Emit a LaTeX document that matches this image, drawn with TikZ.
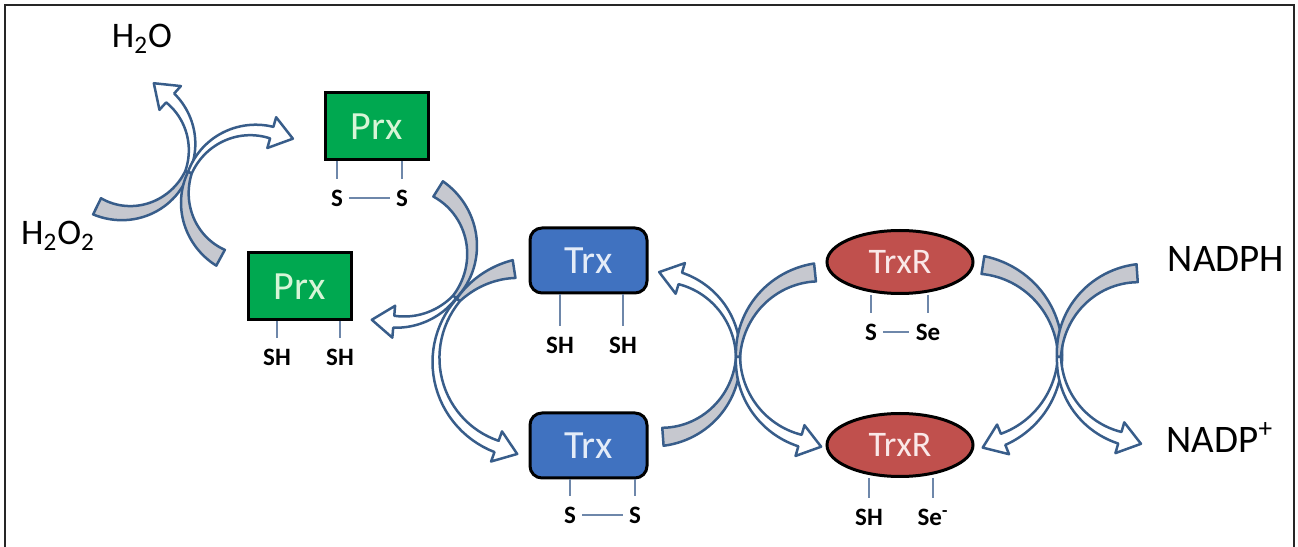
\documentclass[tikz,border=0pt]{standalone}
\usepackage{fontspec}
\setmainfont{Carlito}
\usetikzlibrary{positioning,shapes.geometric}
\definecolor{prxgreen}{RGB}{0,168,80}
\definecolor{prxtext}{RGB}{215,245,215}
\definecolor{trxblue}{RGB}{64,114,192}
\definecolor{trxtext}{RGB}{228,236,248}
\definecolor{trxrred}{RGB}{192,80,77}
\definecolor{trxrtext}{RGB}{250,232,232}
\definecolor{arrowblue}{RGB}{56,93,138}
\definecolor{tailgray}{RGB}{198,200,207}
\definecolor{bondblue}{RGB}{110,135,170}
% widths of the bent arrows (in picture units)
\newcommand{\tailw}{18}
\newcommand{\waistw}{4}
\newcommand{\headw}{12}
\newcommand{\headhw}{16}
\newcommand{\headl}{22}
\tikzset{
prx/.style={
draw=black,
line width=1.5pt,
minimum width=51.5pt,
minimum height=33.5pt,
fill=prxgreen,
text=prxtext,
font=\fontsize{20}{20}\selectfont
},
trx/.style={
prx,
rounded corners=6pt,
minimum width=58.5pt,
minimum height=32.5pt,
fill=trxblue,
text=trxtext
},
trxr/.style={
ellipse,
draw=black,
line width=1.5pt,
inner sep=0pt,
minimum width=73pt,
minimum height=31.5pt,
fill=trxrred,
text=trxrtext,
font=\fontsize{18}{18}\selectfont
},
site/.style={
inner sep=1pt,
font=\bfseries\fontsize{12.5}{12.5}\selectfont
},
bond/.style={
draw=bondblue,
line width=0.8pt
},
species/.style={
anchor=base,
font=\fontsize{18}{18}\selectfont
},
bent/.style={
draw=arrowblue,
line width=1.25pt,
line join=round
},
frame/.style={
draw=black!85,
line width=1.2pt
}
}
% centre x, centre y, radius, tail angle, waist angle, head angle
\newcommand{\bentarrow}[6]{%
\pgfmathsetmacro\tipdir{#6+90*sign(#6-(#4))}%
\pgfmathsetmacro\tipx{(#3)*cos(#6)+\headl*cos(\tipdir)}%
\pgfmathsetmacro\tipy{(#3)*sin(#6)+\headl*sin(\tipdir)}%
\begin{scope}[shift={(#1,#2)}]
\filldraw[bent,fill=tailgray]
plot[domain=#4:#5,samples=30] (\x:{#3+(\tailw+(\waistw-\tailw)*(\x-(#4))/((#5)-(#4)))/2})
-- plot[domain=#5:#4,samples=30] (\x:{#3-(\tailw+(\waistw-\tailw)*(\x-(#4))/((#5)-(#4)))/2})
-- cycle;
\filldraw[bent,fill=white]
plot[domain=#5:#6,samples=30] (\x:{#3+(\waistw+(\headw-\waistw)*(\x-(#5))/((#6)-(#5)))/2})
-- (#6:{#3+\headhw}) -- (\tipx,\tipy) -- (#6:{#3-\headhw})
-- plot[domain=#6:#5,samples=30] (\x:{#3-(\waistw+(\headw-\waistw)*(\x-(#5))/((#6)-(#5)))/2})
-- cycle;
\end{scope}}

\begin{document}
\begin{tikzpicture}[x=0.5pt,y=0.5pt]
\useasboundingbox (0,0) rectangle (1298,547);
\draw[frame] (5,-5) |- (1294,542) -- (1294,-5);

% bent arrows, in crossing pairs
\foreach \cx/\cy/\rad/\atail/\awaist/\ahead in {
126/400/66/244/338/408, 253/349/68/241.5/158/74,
400/297/72/58/-40.7/-95, 528/187/92/98.7/139.3/250,
657/191/81/-85.8/-0.7/73.3, 824/189/86/96/179.3/253.8,
969/192/91/81.2/0/-68, 1143/190/84/94/180/254}
\bentarrow{\cx}{\cy}{\rad}{\atail}{\awaist}{\ahead};

\node[prx](prxA) at (376.5,420.5){Prx};
\node[prx](prxB) at (299.5,260.5){Prx};
\node[trx](trxA) at (588.5,286.5){Trx};
\node[trx](trxB) at (588.5,101.5){Trx};
\node[trxr](trxrA) at (900,285){TrxR};
\node[trxr](trxrB) at (900,102){TrxR};

\node[site](sA1) at (337,349){S};
\node[site](sA2) at (402,349){S};
\node[site](shB1) at (277,190){SH};
\node[site](shB2) at (340,190){SH};
\node[site](shC1) at (560,202){SH};
\node[site](shC2) at (623,202){SH};
\node[site](sD1) at (570,32){S};
\node[site](sD2) at (635,32){S};
\node[site](sE1) at (871,215){S};
\node[site](seE2) at (928,215){Se};
\node[site](shF1) at (869,30){SH};
\node[site](seF2) at (933,30){Se\textsuperscript{-}};

\foreach \prot/\site in {prxA/sA1,prxA/sA2,prxB/shB1,prxB/shB2,trxA/shC1,trxA/shC2,
trxB/sD1,trxB/sD2,trxrA/sE1,trxrA/seE2,trxrB/shF1,trxrB/seF2}
\draw[bond,shorten >=4pt](\prot.south -| \site)--(\site.north);

\foreach \x/\y in {sA1/sA2,sD1/sD2,sE1/seE2}
\draw[bond,shorten <=2pt,shorten >=2pt](\x)--(\y);

\node[species](h2o) at (142,499){H\textsubscript{2}O};
\node[species](h2o2) at (58,302){H\textsubscript{2}O\textsubscript{2}};
\node[species,font=\fontsize{19.5}{19.5}\selectfont](nadph) at (1226,275){NADPH};
\node[species,font=\fontsize{19.5}{19.5}\selectfont](nadp) at (1220,94){NADP\textsuperscript{+}};

\end{tikzpicture}
\end{document}
